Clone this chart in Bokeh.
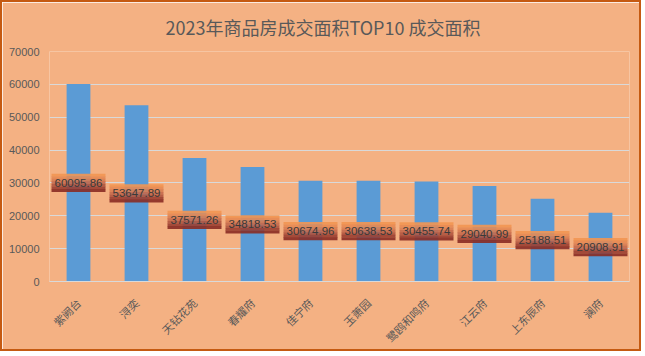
from bokeh.plotting import figure
from bokeh.models import Range1d, FactorRange, FixedTicker, ColumnDataSource, Title
from bokeh.core.properties import value
from bokeh.embed import file_html
from bokeh.resources import INLINE
import math

title_text = "2023年商品房成交面积TOP10 成交面积"
categories = ["紫阙台", "浔奕", "天钻花苑", "春耀府", "佳宁府", "玉萧园", "鹭鸥和鸣府", "江云府", "上东辰府", "澜府"]
areas = [60095.86, 53647.89, 37571.26, 34818.53, 30674.96, 30638.53, 30455.74, 29040.99, 25188.51, 20908.91]
y_ticks = [0, 10000, 20000, 30000, 40000, 50000, 60000, 70000]

BG = "#F4B183"
W, H = 641, 351
LEFT, RIGHT, TOP, BOTTOM = 47, 14, 49, 71
frame_h = H - TOP - BOTTOM
ymax = y_ticks[-1]
px = ymax / frame_h  # data units per pixel

p = figure(width=W, height=H, x_range=FactorRange(*categories), y_range=Range1d(0, ymax),
           output_backend="svg", toolbar_location=None, title=None,
           min_border_left=LEFT, min_border_right=RIGHT, min_border_top=TOP, min_border_bottom=BOTTOM)
p.styles = {"border": "2px solid #C55A11"}
p.background_fill_color = BG
p.border_fill_color = BG
p.outline_line_color = None

# spacer (closest to frame), then the real title above it
p.add_layout(Title(text=" ", text_font_size="4px", standoff=0), "above")
p.add_layout(Title(text=title_text, align="left", offset=116, text_font="Noto Sans CJK SC",
                   text_font_size="18px", text_font_style="normal", text_color="#595959"), "above")

src = ColumnDataSource(dict(cat=categories, v=areas, mid=[a / 2 for a in areas],
                            lab=[f"{a:.2f}" for a in areas]))
p.vbar(x="cat", top="v", width=0.41, source=src, fill_color="#5B9BD5", line_color=None)

# gradient label boxes (stripes)
stops = ["#F29652", "#E78A52", "#D87D52", "#C56A4C", "#B0553F", "#9B3F31", "#8A2C24"]
n = len(stops)
box_h = 18
sh = box_h / n
for i, c in enumerate(stops):
    off = (box_h / 2 - sh * (i + 0.5)) * px
    p.rect(x=categories, y=[a / 2 + off for a in areas], width=54, height=sh * px + px * 0.3,
           width_units="screen", fill_color=c, fill_alpha=0.9, line_color=None)

p.text(x="cat", y="mid", text="lab", source=src, text_align="center", text_baseline="middle",
       text_font=value("Liberation Sans"), text_font_size="11.5px", text_color="#3A3A3A")

p.yaxis.ticker = FixedTicker(ticks=y_ticks)
p.yaxis.axis_line_color = None
p.yaxis.major_tick_line_color = None
p.yaxis.minor_tick_line_color = None
p.yaxis.major_label_text_font = "Liberation Sans"
p.yaxis.major_label_text_font_size = "11px"
p.yaxis.major_label_text_color = "#595959"
p.yaxis.major_label_standoff = 4

p.xaxis.axis_line_color = "#D9D9D9"
p.xaxis.major_tick_line_color = None
p.xaxis.minor_tick_line_color = None
p.xaxis.major_label_orientation = math.pi / 4
p.xaxis.major_label_text_font = "Noto Sans CJK SC"
p.xaxis.major_label_text_font_size = "11px"
p.xaxis.major_label_text_color = "#595959"
p.xaxis.major_label_standoff = 13

p.xgrid.grid_line_color = None
p.ygrid.grid_line_color = "#D9D9D9"
p.ygrid.grid_line_width = 1

open("out.html", "w").write(file_html(p, INLINE))
